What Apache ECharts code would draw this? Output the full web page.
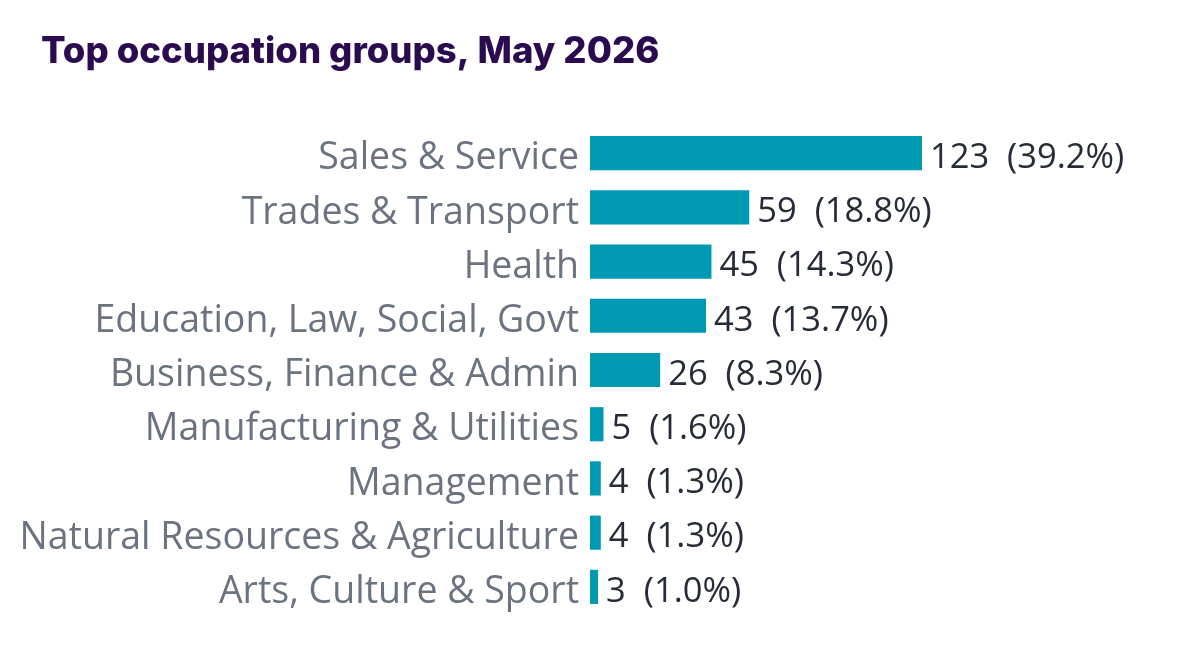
<!DOCTYPE html>
<html>
<head>
<meta charset="utf-8">
<script src="https://cdn.jsdelivr.net/npm/echarts@6/dist/echarts.min.js"></script>
<style>
  html, body { margin: 0; padding: 0; background: #fff; }
  #chart { width: 1180px; height: 660px; }
</style>
</head>
<body>
<div id="chart"></div>
<script>
var categories = ['Sales & Service', 'Trades & Transport', 'Health', 'Education, Law, Social, Govt',
  'Business, Finance & Admin', 'Manufacturing & Utilities', 'Management',
  'Natural Resources & Agriculture', 'Arts, Culture & Sport'];
var counts = [123, 59, 45, 43, 26, 5, 4, 4, 3];
var shares = ['39.2%', '18.8%', '14.3%', '13.7%', '8.3%', '1.6%', '1.3%', '1.3%', '1.0%'];

var chart = echarts.init(document.getElementById('chart'));

var option = {
  animation: false,
  title: {
    text: 'Top occupation groups, May 2026',
    left: 36,
    top: 29,
    textStyle: {
      fontFamily: '"Inter", sans-serif',
      fontWeight: 800,
      fontSize: 36.5,
      color: '#2b0b4f'
    }
  },
  grid: {
    left: 590,
    top: 126,
    width: 332,
    height: 488,
    containLabel: false
  },
  xAxis: {
    type: 'value',
    min: 0,
    max: 123,
    show: false
  },
  yAxis: {
    type: 'category',
    inverse: true,
    data: categories,
    axisLine: { show: false },
    axisTick: { show: false },
    axisLabel: {
      margin: 11,
      formatter: function (v) { return '{a|' + v + '}'; },
      rich: {
        a: {
          padding: [11, 0, 0, 0],
          fontFamily: '"Open Sans", sans-serif',
          fontSize: 37.5,
          color: '#6b7380'
        }
      }
    }
  },
  series: [{
    type: 'bar',
    data: counts,
    barCategoryGap: '37%',
    itemStyle: { color: '#0099b4' },
    label: {
      show: true,
      position: 'right',
      distance: 8,
      formatter: function (p) {
        return '{a|' + p.value + '  (' + shares[p.dataIndex] + ')}';
      },
      rich: {
        a: {
          padding: [10, 0, 0, 0],
          fontFamily: '"Open Sans", sans-serif',
          fontSize: 34.5,
          color: '#262b38'
        }
      }
    }
  }]
};

chart.setOption(option);
</script>
</body>
</html>
